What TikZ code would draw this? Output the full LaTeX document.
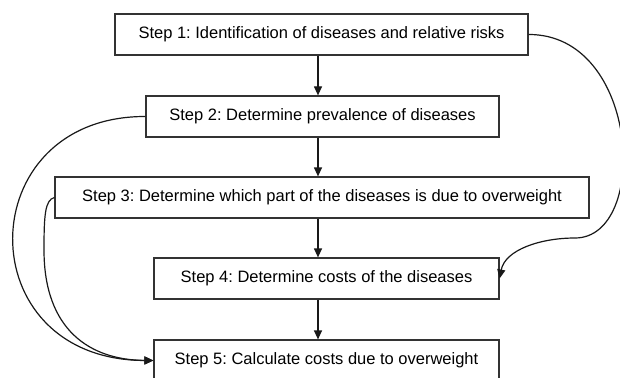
\documentclass[tikz,border=0pt]{standalone}
\usepackage{fontspec}
\setmainfont{Liberation Sans}
\usetikzlibrary{arrows.meta}
\begin{document}
\frenchspacing
\begin{tikzpicture}[x=1pt,y=-1pt,
  stepbox/.style={draw=black!80,line width=1.2pt,inner sep=0pt,minimum height=41pt,
    font=\fontsize{16.5}{19}\selectfont,text=black},
  conn/.style={draw=black!90,line width=1.2pt,-{Triangle[length=9pt,width=8pt]}}]
\useasboundingbox (0,0) rectangle (620,377);
\node[stepbox,minimum width=413pt] (s1) at (321.5,34.5) {Step 1: Identification of diseases and relative risks};
\node[stepbox,minimum width=353pt] (s2) at (322.5,116.5) {Step 2: Determine prevalence of diseases};
\node[stepbox,minimum width=534pt] (s3) at (322,197.5) {Step 3: Determine which part of the diseases is due to overweight};
\node[stepbox,minimum width=345pt] (s4) at (326.5,278.5) {Step 4: Determine costs of the diseases};
\node[stepbox,minimum width=345pt] (s5) at (326.5,360.5) {Step 5: Calculate costs due to overweight};
\coordinate (ax) at (318,0);
\draw[conn] (s1.south -| ax) -- (s2.north -| ax);
\draw[conn] (s2.south -| ax) -- (s3.north -| ax);
\draw[conn] (s3.south -| ax) -- (s4.north -| ax);
\draw[conn] (s4.south -| ax) -- (s5.north -| ax);
\coordinate (r1) at (575,238);
\draw[conn] (s1.east) .. controls (640,34) and (650,238) .. (r1)
  .. controls (540,238) and (505,250) .. (s4.east);
\draw[conn] (s2.west) .. controls (-30,116) and (-33,360) .. (s5.west);
\coordinate (l1) at (44,250);
\draw[conn] (s3.west) .. controls (45,200) and (44,215) .. (l1)
  .. controls (44,330) and (90,360) .. (s5.west);
\end{tikzpicture}
\end{document}
